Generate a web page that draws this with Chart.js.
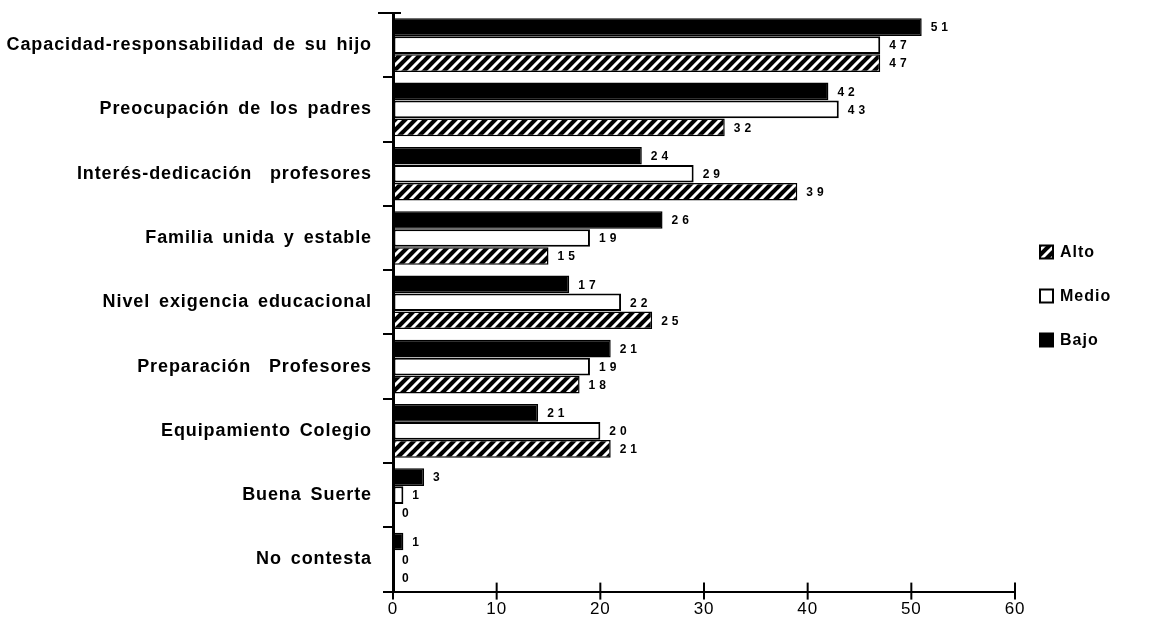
<!DOCTYPE html>
<html>
<head>
<meta charset="utf-8">
<script src="https://cdn.jsdelivr.net/npm/chart.js@4.4.1/dist/chart.umd.min.js"></script>
<style>
  html, body { margin: 0; padding: 0; background: #fff; }
  #wrap { width: 1163px; height: 636px; }
</style>
</head>
<body>
<div id="wrap"><canvas id="c" width="1163" height="636"></canvas></div>
<script>
const categories = [
  "Capacidad-responsabilidad de su hijo",
  "Preocupación de los padres",
  "Interés-dedicación  profesores",
  "Familia unida y estable",
  "Nivel exigencia educacional",
  "Preparación  Profesores",
  "Equipamiento Colegio",
  "Buena Suerte",
  "No contesta"
];
// bar lengths as drawn
const bajo  = [51, 42, 24, 26, 17, 21, 14, 3, 1];
const medio = [47, 43, 29, 19, 22, 19, 20, 1, 0];
const alto  = [47, 32, 39, 15, 25, 18, 21, 0, 0];
// numbers printed next to the bars
const bajoLabels  = ["51", "42", "24", "26", "17", "21", "21", "3", "1"];
const medioLabels = ["47", "43", "29", "19", "22", "19", "20", "1", "0"];
const altoLabels  = ["47", "32", "39", "15", "25", "18", "21", "0", "0"];
const xTicks = [0, 10, 20, 30, 40, 50, 60];
const seriesNames = ["Bajo", "Medio", "Alto"];

function makeHatch() {
  const t = document.createElement('canvas');
  t.width = 10; t.height = 10;
  const g = t.getContext('2d');
  g.fillStyle = '#000';
  g.fillRect(0, 0, 10, 10);
  g.strokeStyle = '#fff';
  g.lineWidth = 3;
  g.beginPath();
  g.moveTo(-1, 11); g.lineTo(11, -1);
  g.moveTo(-11, 11); g.lineTo(1, -1);
  g.moveTo(9, 11); g.lineTo(21, -1);
  g.stroke();
  return g.createPattern(t, 'repeat');
}
const hatch = makeHatch();

const printed = [bajoLabels, medioLabels, altoLabels];

const valueLabels = {
  id: 'valueLabels',
  afterDatasetsDraw(chart) {
    const ctx = chart.ctx;
    ctx.save();
    ctx.font = 'bold 12px "Liberation Sans", Arial, sans-serif';
    ctx.letterSpacing = '4px';
    ctx.wordSpacing = '0px';
    ctx.fillStyle = '#000';
    ctx.textAlign = 'left';
    ctx.textBaseline = 'middle';
    chart.data.datasets.forEach((ds, i) => {
      const meta = chart.getDatasetMeta(i);
      meta.data.forEach((bar, j) => {
        ctx.fillText(printed[i][j], bar.x + 9, bar.y + 1);
      });
    });
    ctx.restore();
  }
};

const axisDecor = {
  id: 'axisDecor',
  afterDraw(chart) {
    const ctx = chart.ctx;
    const xs = chart.scales.x;
    const a = chart.chartArea;
    ctx.save();
    ctx.strokeStyle = '#000';
    ctx.lineWidth = 2;
    xTicks.forEach(v => {
      const px = xs.getPixelForValue(v);
      ctx.beginPath();
      ctx.moveTo(px, a.bottom - 9);
      ctx.lineTo(px, a.bottom + 8);
      ctx.stroke();
    });
    // top tick extends across the axis
    ctx.beginPath();
    ctx.moveTo(a.left - 15, a.top);
    ctx.lineTo(a.left + 8, a.top);
    ctx.stroke();
    ctx.restore();
  }
};

const sideLegend = {
  id: 'sideLegend',
  afterDraw(chart) {
    const ctx = chart.ctx;
    ctx.save();
    ctx.font = 'bold 16px "Liberation Sans", Arial, sans-serif';
    ctx.letterSpacing = '1px';
    ctx.wordSpacing = '0px';
    ctx.textBaseline = 'middle';
    ctx.textAlign = 'left';
    const order = [2, 1, 0];
    const x0 = 1040, y0 = 252, step = 44, box = 13;
    order.forEach((di, k) => {
      const ds = chart.data.datasets[di];
      const y = y0 + k * step;
      ctx.fillStyle = ds.backgroundColor;
      ctx.fillRect(x0, y - box / 2, box, box);
      ctx.strokeStyle = '#000';
      ctx.lineWidth = 2;
      ctx.strokeRect(x0, y - box / 2, box, box);
      ctx.fillStyle = '#000';
      ctx.fillText(ds.label, x0 + box + 7, y + 1);
    });
    ctx.restore();
  }
};

function setSpacing(chart) {
  chart.ctx.letterSpacing = '0.9px';
  chart.ctx.wordSpacing = '3px';
}
const spacing = {
  id: 'spacing',
  beforeUpdate: setSpacing,
  beforeDraw: setSpacing
};

new Chart(document.getElementById('c'), {
  type: 'bar',
  data: {
    labels: categories,
    datasets: [
      { label: seriesNames[0], data: bajo, backgroundColor: '#000', borderColor: '#000', borderWidth: 1.5 },
      { label: seriesNames[1], data: medio, backgroundColor: '#fff', borderColor: '#000', borderWidth: 2 },
      { label: seriesNames[2], data: alto, backgroundColor: hatch, borderColor: '#000', borderWidth: 1.5 }
    ]
  },
  options: {
    indexAxis: 'y',
    responsive: false,
    animation: false,
    devicePixelRatio: 1,
    layout: { padding: { left: 0, right: 148, top: 13, bottom: 8 } },
    datasets: { bar: { categoryPercentage: 0.84, barPercentage: 0.98, borderSkipped: false } },
    plugins: {
      legend: { display: false },
      tooltip: { enabled: false }
    },
    scales: {
      x: {
        min: 0, max: 60,
        afterBuildTicks(scale) { scale.ticks = xTicks.map(v => ({ value: v })); },
        grid: { drawOnChartArea: false, drawTicks: false },
        border: { display: true, color: '#000', width: 2 },
        ticks: {
          color: '#000',
          padding: 8,
          font: { family: '"Liberation Sans", Arial, sans-serif', size: 17 }
        }
      },
      y: {
        afterFit(scale) {
          scale.width = 393;
          scale.paddingTop = 0;
          scale.paddingBottom = 0;
        },
        grid: { drawOnChartArea: false, offset: true, color: '#000', lineWidth: 2, tickLength: 10 },
        border: { display: true, color: '#000', width: 3 },
        ticks: {
          color: '#000',
          padding: 11,
          font: { family: '"Liberation Sans", Arial, sans-serif', size: 18, weight: 'bold' }
        }
      }
    }
  },
  plugins: [spacing, valueLabels, axisDecor, sideLegend]
});
</script>
</body>
</html>
